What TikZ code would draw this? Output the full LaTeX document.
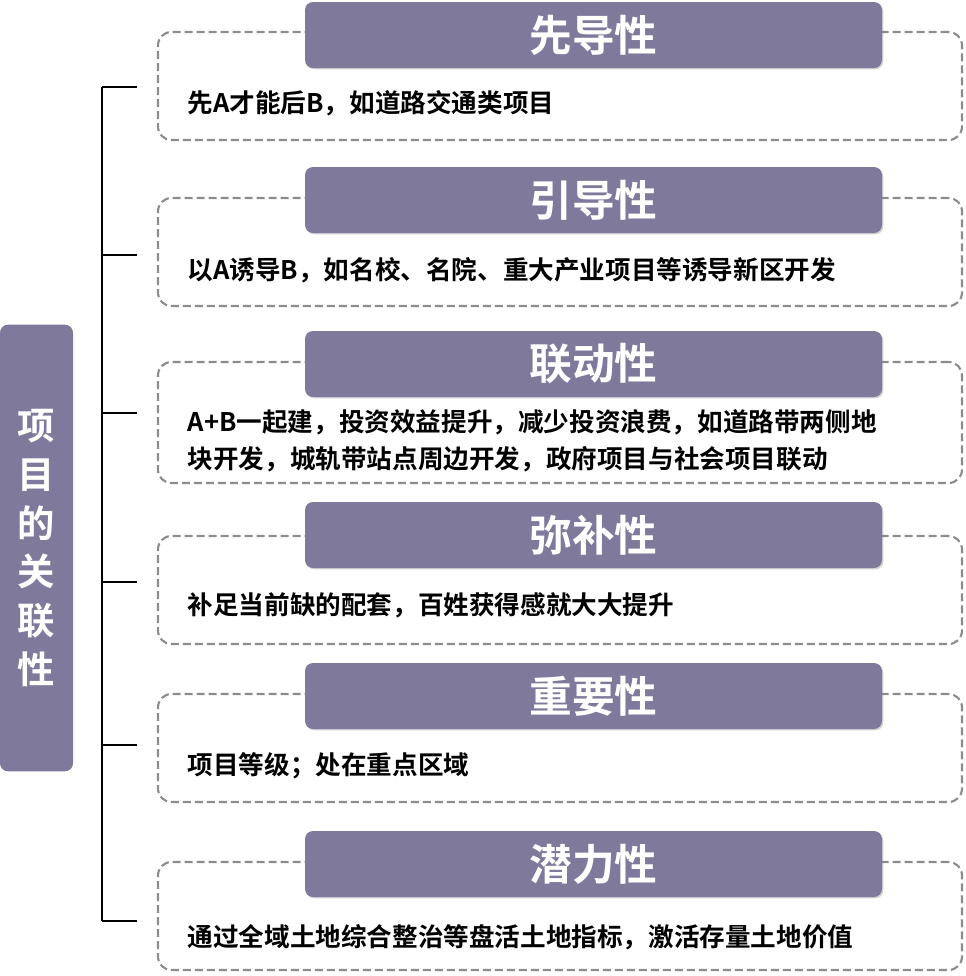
\documentclass[tikz,border=0pt]{standalone}
\usepackage{fontspec}
\newfontfamily\cjk{Noto Sans CJK SC}[BoldFont={* Bold}]
\usetikzlibrary{positioning, shadows}
\definecolor{headfill}{HTML}{7F7A9C}
\definecolor{dashgray}{HTML}{8C8C8C}

\begin{document}
\begin{tikzpicture}[x=0.75pt, y=-0.75pt, font=\cjk\bfseries]
	\tikzset{
		mainbox/.style={fill=headfill, rounded corners=6pt, minimum width=54.75pt, minimum height=335pt, text=white, align=center, font=\cjk\bfseries\fontsize{28}{36.5}\selectfont, inner sep=0pt},
		itembox/.style={draw=dashgray, dash pattern=on 6pt off 3pt, line width=1.6pt, rounded corners=10pt, minimum width=603pt, inner sep=0pt},
		headbox/.style={fill=headfill, rounded corners=6pt, minimum width=432.75pt, minimum height=49.5pt, text=white, font=\cjk\bfseries\fontsize{32}{36}\selectfont, inner sep=0pt, drop shadow={opacity=0.35, shadow xshift=1pt, shadow yshift=-1pt}},
		itemtext/.style={anchor=west, align=left, font=\cjk\bfseries\fontsize{19.2}{28}\selectfont},
		tick/.style={line width=0.8pt}
	}
	\useasboundingbox (0,0) rectangle (966,976);
	% Root
	\node[mainbox] (root) at (36.5,548) {项\\目\\的\\关\\联\\性};
	% Items
	\node[itembox, minimum height=81pt] (b1) at (560,86) {};
	\node[itembox, minimum height=81pt] (b2) at (560,252) {};
	\node[itembox, minimum height=90.75pt] (b3) at (560,422.5) {};
	\node[itembox, minimum height=81pt] (b4) at (560,590) {};
	\node[itembox, minimum height=81pt] (b5) at (560,748) {};
	\node[itembox, minimum height=81pt] (b6) at (560,916) {};
	\node[headbox] (h1) at (593.5,35) {先导性};
	\node[headbox] (h2) at (593.5,200) {引导性};
	\node[headbox] (h3) at (593.5,364) {联动性};
	\node[headbox] (h4) at (593.5,535) {弥补性};
	\node[headbox] (h5) at (593.5,696) {重要性};
	\node[headbox] (h6) at (593.5,864) {潜力性};
	\node[itemtext] (t1) at (183,103) {先A才能后B，如道路交通类项目};
	\node[itemtext] (t2) at (183,270) {以A诱导B，如名校、名院、重大产业项目等诱导新区开发};
	\node[itemtext] (t3) at (183,441) {A+B一起建，投资效益提升，减少投资浪费，如道路带两侧地\\块开发，城轨带站点周边开发，政府项目与社会项目联动};
	\node[itemtext] (t4) at (183,605) {补足当前缺的配套，百姓获得感就大大提升};
	\node[itemtext] (t5) at (183,766) {项目等级；处在重点区域};
	\node[itemtext] (t6) at (183,937) {通过全域土地综合整治等盘活土地指标，激活存量土地价值};
	% Bracket
	\coordinate (top) at (102,87);
	\coordinate (bot) at (102,921);
	\draw[tick] (top) -- (bot);
	\foreach \y/\n in {87/1,255/2,413/3,582/4,745/5,921/6}
		\draw[tick] (102,\y) -- (137,\y);
\end{tikzpicture}
\end{document}
